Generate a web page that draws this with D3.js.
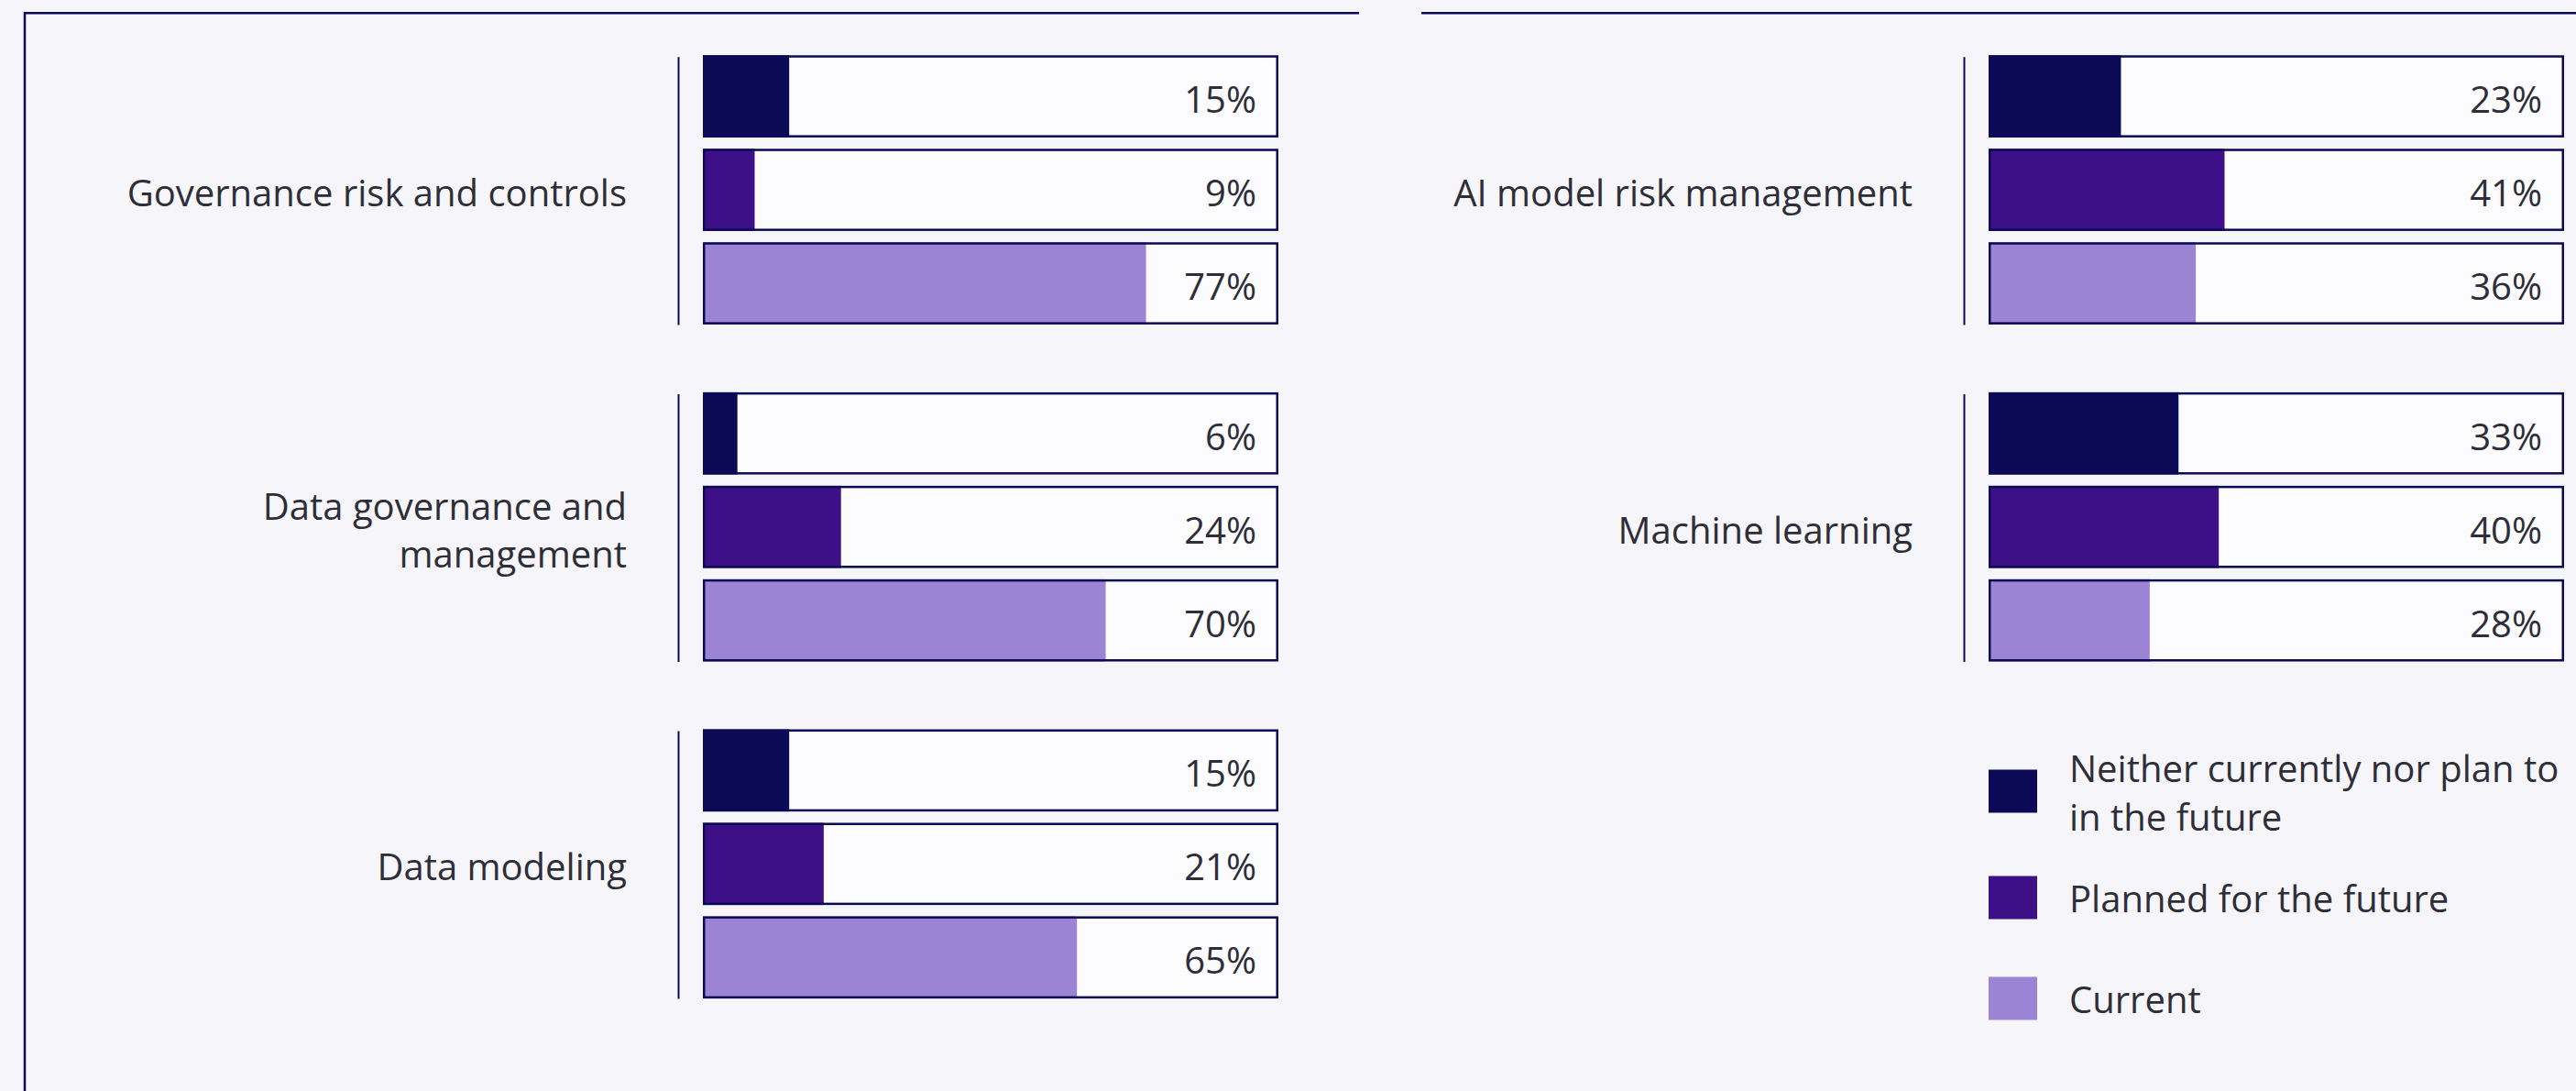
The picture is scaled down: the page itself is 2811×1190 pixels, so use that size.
<!DOCTYPE html>
<html>
<head>
<meta charset="utf-8">
<script src="https://cdn.jsdelivr.net/npm/d3@7/dist/d3.min.js"></script>
<style>
  html, body { margin: 0; padding: 0; background: #f6f5fa; }
  svg { display: block; }
  text { font-family: "Open Sans", "Noto Sans", sans-serif; fill: #2e2e38; }
</style>
</head>
<body>
<svg id="chart" width="2811" height="1190"></svg>
<script>
// Survey categories, split over the two panels
const categoriesLeft = ["Governance risk and controls", "Data governance and management", "Data modeling"];
const categoriesRight = ["AI model risk management", "Machine learning"];

// Series (share of respondents, %), in the order of categoriesLeft then categoriesRight
const seriesNames = ["Neither currently nor plan to in the future", "Planned for the future", "Current"];
const neitherValues = [15, 6, 15, 23, 33];
const plannedValues = [9, 24, 21, 41, 40];
const currentValues = [77, 70, 65, 36, 28];

const seriesColors = ["#0c0a56", "#3e1087", "#9c84d4"];
const navy = "#0c0a56";

const W = 2811, H = 1190;
const svg = d3.select("#chart");
svg.append("rect").attr("width", W).attr("height", H).attr("fill", "#f6f5fa");

// Panel frames
svg.append("path")
  .attr("d", "M27,1190V14.25H1483")
  .attr("fill", "none").attr("stroke", navy).attr("stroke-width", 2.5);
svg.append("path")
  .attr("d", "M1551,14.25H2811")
  .attr("fill", "none").attr("stroke", navy).attr("stroke-width", 2.5);

const allCategories = categoriesLeft.concat(categoriesRight);
const valuesBySeries = [neitherValues, plannedValues, currentValues];

// Vertical slots for category groups inside a panel
const groupY = d3.scaleBand().domain([0, 1, 2]).range([60.3, 1089.1])
  .paddingInner(0.2013).paddingOuter(0);
// Bars inside a group
const barY = d3.scaleBand().domain(d3.range(seriesNames.length))
  .range([0, groupY.bandwidth()]).paddingInner(0.121).paddingOuter(0);
// Percent scale
const x = d3.scaleLinear().domain([0, 100]).range([767, 1395]);

const panels = [
  { cats: categoriesLeft, offset: 0 },
  { cats: categoriesRight, offset: 1403 }
];

function wrapLines(text, maxWidth, fontSize) {
  const probe = svg.append("text").attr("font-size", fontSize).attr("visibility", "hidden");
  const words = text.split(" ");
  const lines = [];
  let cur = "";
  words.forEach(w => {
    const trial = cur ? cur + " " + w : w;
    probe.text(trial);
    if (probe.node().getComputedTextLength() > maxWidth && cur) {
      lines.push(cur);
      cur = w;
    } else {
      cur = trial;
    }
  });
  if (cur) lines.push(cur);
  probe.remove();
  return lines;
}

const fontSize = 40;
const lineH = 52;

panels.forEach(panel => {
  const g = svg.append("g").attr("transform", `translate(${panel.offset},0)`);
  panel.cats.forEach((cat, slot) => {
    const ci = allCategories.indexOf(cat);
    const top = groupY(slot);
    const bw = groupY.bandwidth();
    const gg = g.append("g").attr("class", "group");

    // group axis line
    const axisScale = d3.scaleLinear().domain([0, 1]).range([top + 1.5, top + bw]);
    gg.append("g")
      .attr("transform", "translate(740,0)")
      .call(d3.axisLeft(axisScale).ticks(0).tickSize(0).tickSizeOuter(0).tickFormat(""))
      .call(a => a.select(".domain").attr("stroke", navy).attr("stroke-width", 2));

    // category label
    const lines = wrapLines(cat, 600, fontSize);
    const center = top + bw / 2;
    const lab = gg.append("text")
      .attr("text-anchor", "end")
      .attr("font-size", fontSize);
    lines.forEach((ln, i) => {
      lab.append("tspan")
        .attr("x", 684)
        .attr("y", center + 18 - (lines.length - 1) * lineH / 2 + i * lineH)
        .text(ln);
    });

    // bars
    seriesNames.forEach((s, si) => {
      const v = valuesBySeries[si][ci];
      const by = top + barY(si);
      const bh = barY.bandwidth();
      gg.append("rect")
        .attr("x", x(0) + 1.25).attr("y", by + 1.25)
        .attr("width", x(100) - x(0) - 2.5).attr("height", bh - 2.5)
        .attr("fill", "#fcfcfe");
      gg.append("rect")
        .attr("x", x(0)).attr("y", by)
        .attr("width", x(v) - x(0)).attr("height", bh)
        .attr("fill", seriesColors[si]);
      gg.append("rect")
        .attr("x", x(0) + 1.25).attr("y", by + 1.25)
        .attr("width", x(100) - x(0) - 2.5).attr("height", bh - 2.5)
        .attr("fill", "none").attr("stroke", navy).attr("stroke-width", 2.5);
      gg.append("text")
        .attr("x", x(100) - 24)
        .attr("y", by + bh / 2 + 18)
        .attr("text-anchor", "end")
        .attr("font-size", fontSize)
        .text(v + "%");
    });
  });
});

// Legend
const legendRows = [863, 979, 1089];
const legend = svg.append("g").attr("class", "legend");
seriesNames.forEach((s, i) => {
  const cy = legendRows[i];
  legend.append("rect")
    .attr("x", 2170).attr("y", cy - 23.5)
    .attr("width", 53).attr("height", 47)
    .attr("fill", seriesColors[i]);
  const lines = wrapLines(s, 560, fontSize);
  const t = legend.append("text").attr("font-size", fontSize);
  lines.forEach((ln, j) => {
    t.append("tspan")
      .attr("x", 2258)
      .attr("y", cy + 16 - (lines.length - 1) * 53 / 2 + j * 53)
      .text(ln);
  });
});
</script>
</body>
</html>
